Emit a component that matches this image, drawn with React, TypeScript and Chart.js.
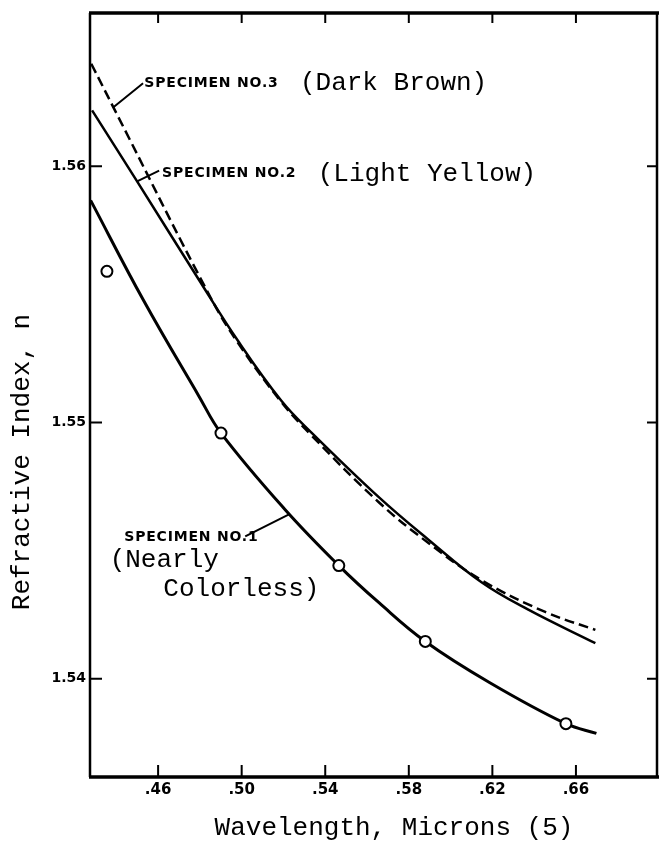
import React, { useEffect, useRef } from "react";
import { Chart, registerables } from "chart.js";

Chart.register(...registerables);

// ---- axis ticks ----
const xTickValues = [0.46, 0.5, 0.54, 0.58, 0.62, 0.66];
const yTickValues = [1.54, 1.55, 1.56];

// ---- Specimen No.1 (Nearly Colorless) : fitted curve + measured points ----
const spec1CurveX = [0.4277, 0.453, 0.4796, 0.4901, 0.5205, 0.5465, 0.566, 0.5879, 0.6186, 0.6552, 0.6698];
const spec1CurveY = [1.55867, 1.55477, 1.55102, 1.54959, 1.54663, 1.54442, 1.54295, 1.54146, 1.53986, 1.53825, 1.53787];
const spec1PointX = [0.4355, 0.4901, 0.5465, 0.5879, 0.6552];
const spec1PointY = [1.5559, 1.54959, 1.54442, 1.54146, 1.53825];

// ---- Specimen No.2 (Light Yellow) ----
const spec2CurveX = [0.4284, 0.4501, 0.479, 0.4983, 0.519, 0.5334, 0.5655, 0.5894, 0.6148, 0.6372, 0.6693];
const spec2CurveY = [1.56218, 1.55939, 1.55564, 1.55318, 1.55085, 1.54961, 1.5471, 1.54543, 1.54377, 1.5427, 1.54139];

// ---- Specimen No.3 (Dark Brown) ----
const spec3CurveX = [0.428, 0.4386, 0.4853, 0.4983, 0.519, 0.5334, 0.5655, 0.5894, 0.6148, 0.6453, 0.6693];
const spec3CurveY = [1.564, 1.5623, 1.55485, 1.5531, 1.5508, 1.5495, 1.5469, 1.5453, 1.54385, 1.54261, 1.54191];

// ---- annotation texts (anchored in data units) ----
const capsLabels = [
  { text: "SPECIMEN NO.3", x: 0.4534, y: 1.56323 },
  { text: "SPECIMEN NO.2", x: 0.4619, y: 1.55971 },
  { text: "SPECIMEN NO.1", x: 0.4438, y: 1.54552 },
];
const typedLabels = [
  { text: "(Dark Brown)", x: 0.5279, y: 1.56323 },
  { text: "(Light Yellow)", x: 0.5364, y: 1.5597 },
  { text: "(Nearly", x: 0.4368, y: 1.54462 },
  { text: "Colorless)", x: 0.4625, y: 1.5435 },
];
const leaderLines = [
  { x1: 0.4528, y1: 1.56324, x2: 0.4386, y2: 1.5623 },
  { x1: 0.4605, y1: 1.55983, x2: 0.4497, y2: 1.5594 },
  { x1: 0.5017, y1: 1.54556, x2: 0.5229, y2: 1.54643 },
];

const X_MIN = 0.4274;
const X_MAX = 0.6988;
const Y_MIN = 1.53617;
const Y_MAX = 1.56598;

const xTitle = "Wavelength, Microns (5)";
const yTitle = "Refractive Index, n";

const toXY = (xs: number[], ys: number[]) => xs.map((x, i) => ({ x, y: ys[i] }));

const MONO = '26px "Liberation Mono", "DejaVu Sans Mono", monospace';
const CAPS = 'bold 14px "DejaVu Sans", sans-serif';

const framePlugin = {
  id: "framePlugin",
  beforeDraw(chart: any) {
    const ctx = chart.ctx;
    ctx.save();
    ctx.fillStyle = "#ffffff";
    ctx.fillRect(0, 0, chart.width, chart.height);
    ctx.restore();
  },
  afterDraw(chart: any) {
    const ctx: CanvasRenderingContext2D = chart.ctx;
    const { left, right, top, bottom } = chart.chartArea;
    const xs = chart.scales.x;
    const ys = chart.scales.y;
    ctx.save();
    ctx.strokeStyle = "#000";
    ctx.lineCap = "butt";
    // frame
    ctx.lineWidth = 2.5;
    ctx.beginPath();
    ctx.moveTo(left, top);
    ctx.lineTo(left, bottom);
    ctx.moveTo(right, top);
    ctx.lineTo(right, bottom);
    ctx.stroke();
    ctx.lineWidth = 3.5;
    ctx.beginPath();
    ctx.moveTo(left - 1, top);
    ctx.lineTo(right + 2, top);
    ctx.moveTo(left - 1, bottom);
    ctx.lineTo(right + 2, bottom);
    ctx.stroke();
    // inward ticks
    ctx.lineWidth = 2;
    ctx.beginPath();
    xTickValues.forEach((v) => {
      const px = xs.getPixelForValue(v);
      ctx.moveTo(px, bottom);
      ctx.lineTo(px, bottom - 12);
      ctx.moveTo(px, top);
      ctx.lineTo(px, top + 10);
    });
    yTickValues.forEach((v) => {
      const py = ys.getPixelForValue(v);
      ctx.moveTo(left, py);
      ctx.lineTo(left + 12, py);
      ctx.moveTo(right, py);
      ctx.lineTo(right - 10, py);
    });
    ctx.stroke();
    // leader lines
    ctx.lineWidth = 2;
    ctx.beginPath();
    leaderLines.forEach((l) => {
      ctx.moveTo(xs.getPixelForValue(l.x1), ys.getPixelForValue(l.y1));
      ctx.lineTo(xs.getPixelForValue(l.x2), ys.getPixelForValue(l.y2));
    });
    ctx.stroke();
    // texts
    ctx.fillStyle = "#000";
    ctx.textBaseline = "middle";
    ctx.textAlign = "left";
    ctx.font = CAPS;
    (ctx as any).letterSpacing = "0.8px";
    capsLabels.forEach((t) => {
      ctx.fillText(t.text, xs.getPixelForValue(t.x), ys.getPixelForValue(t.y));
    });
    (ctx as any).letterSpacing = "0px";
    ctx.font = MONO;
    typedLabels.forEach((t) => {
      ctx.fillText(t.text, xs.getPixelForValue(t.x), ys.getPixelForValue(t.y));
    });
    // axis titles
    ctx.textAlign = "center";
    ctx.fillText(xTitle, 394, 828);
    ctx.translate(22, 462);
    ctx.rotate(-Math.PI / 2);
    ctx.fillText(yTitle, 0, 0);
    ctx.restore();
  },
};

export default function App() {
  const canvasRef = useRef<HTMLCanvasElement | null>(null);

  useEffect(() => {
    if (!canvasRef.current) return;
    const xTickFont = { family: '"DejaVu Sans", sans-serif', weight: "bold" as const, size: 15 };
    const yTickFont = { family: '"DejaVu Sans", sans-serif', weight: "bold" as const, size: 14 };
    const curveStyle = { showLine: true, borderColor: "#000000", pointRadius: 0, tension: 0.4 };
    const chart = new Chart(canvasRef.current, {
      type: "scatter",
      data: {
        datasets: [
          {
            label: "Specimen No.1 measured",
            data: toXY(spec1PointX, spec1PointY),
            showLine: false,
            pointRadius: 5.5,
            pointBorderWidth: 2,
            pointBackgroundColor: "#ffffff",
            pointBorderColor: "#000000",
            pointStyle: "circle",
          },
          {
            label: "Specimen No.1 (Nearly Colorless)",
            data: toXY(spec1CurveX, spec1CurveY),
            ...curveStyle,
            borderWidth: 3,
          },
          {
            label: "Specimen No.2 (Light Yellow)",
            data: toXY(spec2CurveX, spec2CurveY),
            ...curveStyle,
            borderWidth: 2.5,
          },
          {
            label: "Specimen No.3 (Dark Brown)",
            data: toXY(spec3CurveX, spec3CurveY),
            ...curveStyle,
            borderWidth: 2.5,
            borderDash: [10, 5],
          },
        ],
      },
      options: {
        responsive: false,
        animation: false,
        layout: { autoPadding: false, padding: { top: 13, right: 3, bottom: 0, left: 0 } },
        plugins: {
          legend: { display: false },
          tooltip: { enabled: false },
        },
        scales: {
          x: {
            type: "linear",
            min: X_MIN,
            max: X_MAX,
            grid: { display: false, drawTicks: false },
            border: { display: false },
            afterBuildTicks: (scale: any) => {
              scale.ticks = xTickValues.map((v) => ({ value: v }));
            },
            afterFit: (scale: any) => {
              scale.height = 71;
              scale.paddingLeft = 0;
              scale.paddingRight = 0;
            },
            ticks: {
              color: "#000",
              font: xTickFont,
              padding: 4,
              maxRotation: 0,
              autoSkip: false,
              callback: (v: any) => Number(v).toFixed(2).slice(1),
            },
          },
          y: {
            type: "linear",
            min: Y_MIN,
            max: Y_MAX,
            grid: { display: false, drawTicks: false },
            border: { display: false },
            afterBuildTicks: (scale: any) => {
              scale.ticks = yTickValues.map((v) => ({ value: v }));
            },
            afterFit: (scale: any) => {
              scale.width = 90;
              scale.paddingTop = 0;
              scale.paddingBottom = 0;
            },
            ticks: {
              color: "#000",
              font: yTickFont,
              padding: 4,
              autoSkip: false,
              callback: (v: any) => Number(v).toFixed(2),
            },
          },
        },
      },
      plugins: [framePlugin],
    });
    return () => chart.destroy();
  }, []);

  return (
    <div style={{ position: "fixed", left: 0, top: 0, width: 660, height: 848, background: "#fff" }}>
      <canvas ref={canvasRef} width={660} height={848} style={{ display: "block" }} />
    </div>
  );
}
